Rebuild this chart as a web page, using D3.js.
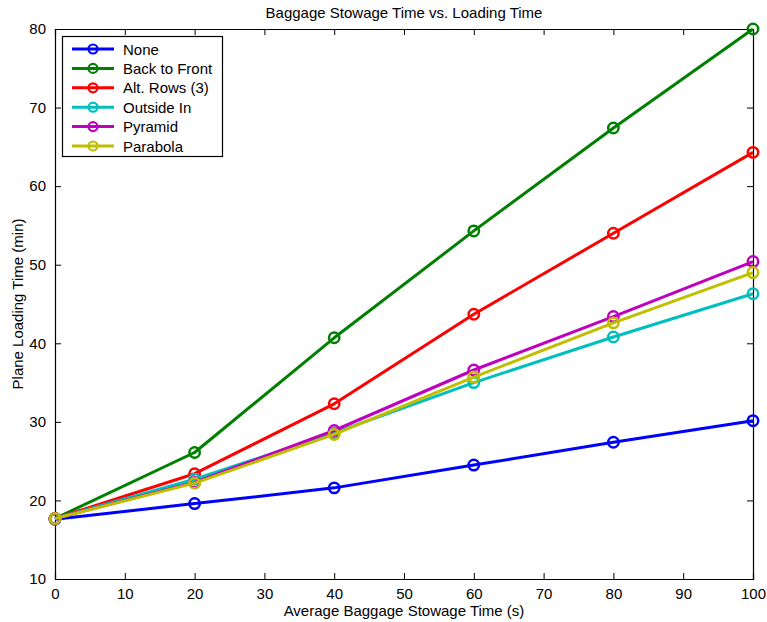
<!DOCTYPE html>
<html><head><meta charset="utf-8">
<script src="https://cdn.jsdelivr.net/npm/d3@7"></script>
<style>body{margin:0;background:#fff;} text{font-family:"Liberation Sans",Arial,sans-serif;}</style>
</head><body>
<svg id="c" width="767" height="622"></svg>
<script>
const xValues = [0, 20, 40, 60, 80, 100];
const seriesNames = ["None", "Back to Front", "Alt. Rows (3)", "Outside In", "Pyramid", "Parabola"];
const seriesColors = ["#0000ff", "#008000", "#ff0000", "#00bfbf", "#bf00bf", "#bfbf00"];
const noneVals = [17.6, 19.6, 21.6, 24.5, 27.4, 30.15];
const backToFrontVals = [17.7, 26.1, 40.7, 54.3, 67.4, 80.0];
const altRowsVals = [17.7, 23.4, 32.3, 43.7, 54.0, 64.3];
const outsideInVals = [17.7, 22.7, 28.6, 35.0, 40.8, 46.3];
const pyramidVals = [17.7, 22.3, 28.9, 36.6, 43.4, 50.4];
const parabolaVals = [17.7, 22.2, 28.4, 35.7, 42.6, 49.0];
const xTicks = [0,10,20,30,40,50,60,70,80,90,100];
const yTicks = [10,20,30,40,50,60,70,80];
const titleText = "Baggage Stowage Time vs. Loading Time";
const xLabel = "Average Baggage Stowage Time (s)";
const yLabel = "Plane Loading Time (min)";

const allSeries = [noneVals, backToFrontVals, altRowsVals, outsideInVals, pyramidVals, parabolaVals];

const FS = 15;
const svg = d3.select("#c");
const L = 55, R = 753, T = 29, B = 579;
const x = d3.scaleLinear().domain([0,100]).range([L,R]);
const y = d3.scaleLinear().domain([10,80]).range([B,T]);

// axes
const axB = svg.append("g").attr("transform",`translate(0,${B})`)
  .call(d3.axisBottom(x).tickValues(xTicks).tickSize(-6).tickPadding(9).tickFormat(d3.format("d")));
const axL = svg.append("g").attr("transform",`translate(${L},0)`)
  .call(d3.axisLeft(y).tickValues(yTicks).tickSize(-6).tickPadding(9).tickFormat(d3.format("d")));
const axT = svg.append("g").attr("transform",`translate(0,${T})`)
  .call(d3.axisTop(x).tickValues(xTicks).tickSize(-6).tickFormat(""));
const axR = svg.append("g").attr("transform",`translate(${R},0)`)
  .call(d3.axisRight(y).tickValues(yTicks).tickSize(-6).tickFormat(""));
[axB,axL,axT,axR].forEach(a=>{
  a.select(".domain").attr("stroke","#000").attr("stroke-width",1.2);
  a.selectAll(".tick line").attr("stroke","#000").attr("stroke-width",1);
  a.selectAll(".tick text").attr("font-size",FS).attr("fill","#000").attr("font-family","Liberation Sans, Arial, sans-serif");
});
[axB,axT].forEach(a=>a.selectAll(".tick line").filter(d=>d===0||d===100).remove());
[axL,axR].forEach(a=>a.selectAll(".tick line").filter(d=>d===10||d===80).remove());

// lines
const line = d3.line().x((d,i)=>x(xValues[i])).y(d=>y(d));
allSeries.forEach((vals,si)=>{
  svg.append("path").datum(vals).attr("d",line).attr("fill","none")
    .attr("stroke",seriesColors[si]).attr("stroke-width",3).attr("stroke-linejoin","round");
  svg.append("g").selectAll("circle").data(vals).join("circle")
    .attr("cx",(d,i)=>x(xValues[i])).attr("cy",d=>y(d)).attr("r",5.2)
    .attr("fill","none").attr("stroke",seriesColors[si]).attr("stroke-width",2.5);
});

// title and labels
svg.append("text").attr("x",(L+R)/2).attr("y",18).attr("text-anchor","middle")
  .attr("font-size",FS).text(titleText);
svg.append("text").attr("x",(L+R)/2).attr("y",616).attr("text-anchor","middle")
  .attr("font-size",FS).text(xLabel);
svg.append("text").attr("transform",`translate(23,${(T+B)/2}) rotate(-90)`).attr("text-anchor","middle")
  .attr("font-size",FS).text(yLabel);

// legend
const lg = svg.append("g");
lg.append("rect").attr("x",62.5).attr("y",36.5).attr("width",160).attr("height",120)
  .attr("fill","#fff").attr("stroke","#000").attr("stroke-width",1.2);
seriesNames.forEach((n,i)=>{
  const yy = 49 + i*19.4;
  lg.append("line").attr("x1",72).attr("x2",114).attr("y1",yy).attr("y2",yy)
    .attr("stroke",seriesColors[i]).attr("stroke-width",3);
  lg.append("circle").attr("cx",93).attr("cy",yy).attr("r",4.5)
    .attr("fill","none").attr("stroke",seriesColors[i]).attr("stroke-width",2.2);
  lg.append("text").attr("x",123).attr("y",yy+5.5).attr("font-size",FS).text(n);
});
</script>
</body></html>
